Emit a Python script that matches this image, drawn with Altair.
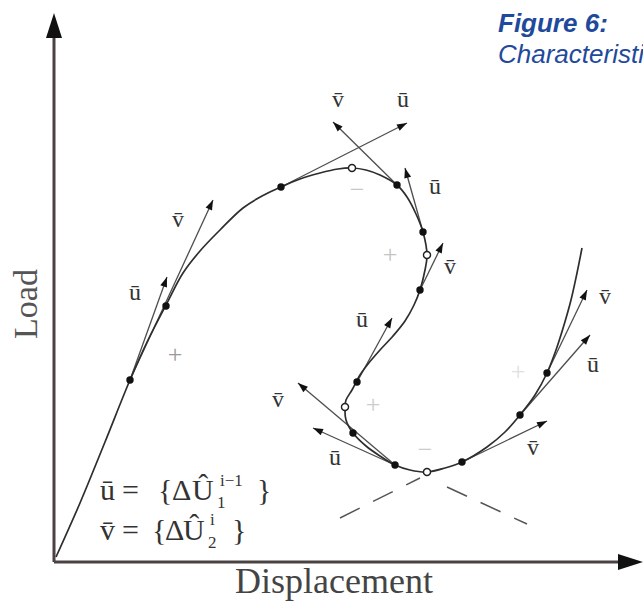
import math
import pandas as pd
import altair as alt

# Equilibrium path: displacement / load, measured from the axes corner
path_disp = [2, 26, 51, 76, 94, 113, 129, 146, 166, 189, 208, 227, 246, 266, 284, 298,
             312, 326, 343, 353, 362, 369, 373, 371, 366, 360, 351, 339, 326, 314, 306,
             298, 292, 291, 292, 299, 312, 326, 341, 356, 373, 391, 408, 433, 451, 466,
             481, 493, 502, 510, 517, 523, 528]
path_load = [5, 59, 120, 182, 222, 259, 289, 311, 332, 354, 366, 375, 383, 389, 393, 394,
             392, 387, 377, 365, 348, 330, 307, 292, 272, 257, 241, 226, 212, 198, 187,
             172, 162, 155, 142, 129, 116, 106, 97, 92, 90, 94, 100, 115, 130, 147,
             167, 189, 212, 237, 262, 289, 314]

# Converged steps along the path (filled) and critical points (open)
step_disp = [76, 112, 227, 343, 369, 366, 303, 299, 341, 408, 466, 493]
step_load = [182, 256, 375, 377, 330, 272, 180, 129, 97, 100, 147, 189]
crit_disp = [298, 373, 291, 373]
crit_load = [394, 307, 155, 90]

# Predictor vectors u and v: tail, tip and label anchor
vec_kind = ["u", "v", "u", "v", "u", "v", "u", "v", "u", "v", "u", "v"]
vec_tail_d = [76, 76, 227, 343, 369, 366, 303, 341, 341, 408, 466, 493]
vec_tail_l = [182, 182, 375, 377, 330, 272, 180, 97, 97, 100, 147, 189]
vec_tip_d = [113, 159, 353, 279, 351, 389, 338, 244, 259, 493, 536, 533]
vec_tip_l = [285, 362, 439, 440, 394, 319, 244, 179, 134, 141, 227, 272]
vec_label_d = [81, 124, 349, 284, 381, 396, 308, 224, 281, 479, 539, 551]
vec_label_l = [269, 342, 462, 462, 375, 295, 242, 162, 104, 114, 197, 265]

# Branch directions through the bifurcation point (dashed)
branch_d = [286, 393]
branch_l = [44, 75]
branch_d2 = [366, 473]
branch_l2 = [84, 38]

# Stability signs around the path
sign_text = ["+", "+", "+", "\u2212", "\u2212", "+"]
sign_d = [121, 336, 319, 303, 371, 464]
sign_l = [207, 307, 157, 372, 112, 190]
sign_shade = ["#9a9a9a", "#c4c4c4", "#cccccc", "#c8c8c8", "#cccccc", "#e0e0e0"]

# Axis extents
x_end, y_end = 589, 549

XS = alt.Scale(domain=[-54, 589], nice=False, zero=False)
YS = alt.Scale(domain=[-40, 562], nice=False, zero=False)


def X(f="d"):
    return alt.X(f"{f}:Q", scale=XS, axis=None)


def Y(f="l"):
    return alt.Y(f"{f}:Q", scale=YS, axis=None)


SERIF = "Liberation Serif"
ARROW = "M0,0L3.5,10L-3.5,10Z"
AXIS_ARROW = "M0,0L3.2,10L-3.2,10Z"

# --- axes -------------------------------------------------------------
axes_df = pd.DataFrame({"d": [0, 0], "l": [0, 0], "d2": [x_end - 20, 0], "l2": [0, y_end - 22]})
axes = alt.Chart(axes_df).mark_rule(color="#4a4242", strokeWidth=3).encode(
    x=X(), y=Y(), x2="d2:Q", y2="l2:Q")
axes_tip_df = pd.DataFrame({"d": [x_end, 0], "l": [0, y_end], "ang": [90, 0]})
axes_tips = alt.Chart(axes_tip_df).mark_point(
    shape=AXIS_ARROW, filled=True, size=25, color="#111", opacity=1, strokeWidth=0
).encode(x=X(), y=Y(), angle=alt.Angle("ang:Q", scale=None))

# --- equilibrium path -------------------------------------------------
path_df = pd.DataFrame({"d": path_disp, "l": path_load, "i": range(len(path_disp))})
path = alt.Chart(path_df).mark_line(color="#2e2e2e", strokeWidth=1.7, interpolate="catmull-rom").encode(
    x=X(), y=Y(), order="i:O")

# --- dashed branch lines ------------------------------------------------
br_df = pd.DataFrame({"d": branch_d, "l": branch_l, "d2": branch_d2, "l2": branch_l2})
branches = alt.Chart(br_df).mark_rule(color="#555", strokeWidth=1.5, strokeDash=[22, 15]).encode(
    x=X(), y=Y(), x2="d2:Q", y2="l2:Q")

# --- predictor vectors ------------------------------------------------
angles = [math.degrees(math.atan2(td - d, tl - l)) % 360
          for d, l, td, tl in zip(vec_tail_d, vec_tail_l, vec_tip_d, vec_tip_l)]
vec_df = pd.DataFrame({
    "d": vec_tail_d, "l": vec_tail_l, "d2": vec_tip_d, "l2": vec_tip_l,
    "ang": angles,
    "label": ["\u016b" if k == "u" else "v\u0304" for k in vec_kind],
    "ld": vec_label_d, "ll": vec_label_l,
})
vec_lines = alt.Chart(vec_df).mark_rule(color="#4d4d4d", strokeWidth=1.3).encode(
    x=X(), y=Y(), x2="d2:Q", y2="l2:Q")
vec_heads = alt.Chart(vec_df).mark_point(
    shape=ARROW, filled=True, size=4, color="#111", opacity=1, strokeWidth=0
).encode(x=X("d2"), y=Y("l2"), angle=alt.Angle("ang:Q", scale=None))
vec_labels = alt.Chart(vec_df).mark_text(
    font=SERIF, fontSize=24, color="#333", baseline="middle", align="center"
).encode(x=X("ld"), y=Y("ll"), text="label:N")

# --- step and critical points -------------------------------------------
steps = alt.Chart(pd.DataFrame({"d": step_disp, "l": step_load})).mark_point(
    shape="circle", filled=True, size=55, color="#111", opacity=1
).encode(x=X(), y=Y())
crits = alt.Chart(pd.DataFrame({"d": crit_disp, "l": crit_load})).mark_point(
    shape="circle", filled=True, fill="white", stroke="#222", strokeWidth=1.4, size=50, opacity=1
).encode(x=X(), y=Y())

# --- stability signs ----------------------------------------------------
sign_df = pd.DataFrame({"d": sign_d, "l": sign_l, "t": sign_text, "c": sign_shade})
signs = alt.Chart(sign_df).mark_text(font=SERIF, fontSize=26, baseline="middle").encode(
    x=X(), y=Y(), text="t:N", color=alt.Color("c:N", scale=None))

# --- vector definitions -------------------------------------------------
f_text = ["\u016b", "=", "{", "\u0394", "\u00db", "1", "i\u22121", "}",
          "v\u0304", "=", "{", "\u0394", "\u00db", "2", "i", "}"]
f_d = [46, 68, 104, 118, 138, 163, 166, 203,
       46, 68, 98, 111, 129, 154, 156, 178]
f_l = [62, 62, 62, 62, 62, 54, 76, 62,
       22, 22, 22, 22, 22, 14, 37, 22]
f_size = [30, 30, 30, 30, 30, 17, 17, 30,
          30, 30, 30, 30, 30, 17, 17, 30]
f_df = pd.DataFrame({"d": f_d, "l": f_l, "t": f_text, "s": f_size})
formula = alt.Chart(f_df).mark_text(font=SERIF, color="#333", align="left", baseline="alphabetic").encode(
    x=X(), y=Y(), text="t:N", size=alt.Size("s:Q", scale=None))

# --- axis titles ----------------------------------------------------------
load_title = alt.Chart(pd.DataFrame({"d": [-27], "l": [258], "t": ["Load"]})).mark_text(
    font=SERIF, fontSize=34, color="#555", angle=270, align="center", baseline="middle"
).encode(x=X(), y=Y(), text="t:N")
disp_title = alt.Chart(pd.DataFrame({"d": [280], "l": [-31], "t": ["Displacement"]})).mark_text(
    font=SERIF, fontSize=36, color="#444", align="center", baseline="alphabetic"
).encode(x=X(), y=Y(), text="t:N")

# --- caption ------------------------------------------------------------
cap1 = alt.Chart(pd.DataFrame({"d": [444], "l": [530], "t": ["Figure 6:"]})).mark_text(
    font="Liberation Sans", fontSize=26, fontWeight="bold", fontStyle="italic",
    color="#1f4a9c", align="left", baseline="alphabetic"
).encode(x=X(), y=Y(), text="t:N")
cap2 = alt.Chart(pd.DataFrame({"d": [444], "l": [499], "t": ["Characteristics"]})).mark_text(
    font="Liberation Sans", fontSize=26, fontStyle="italic",
    color="#1f4a9c", align="left", baseline="alphabetic", clip=True
).encode(x=X(), y=Y(), text="t:N")

chart = alt.layer(
    signs, axes, branches, vec_lines, path, vec_heads, steps, crits, axes_tips,
    vec_labels, formula, load_title, disp_title, cap1, cap2,
).properties(
    width=643, height=602, autosize=alt.AutoSizeParams(type="none"), padding=0,
).configure_view(stroke=None)

chart.save("out.html", embed_options={"renderer": "svg", "actions": False})
